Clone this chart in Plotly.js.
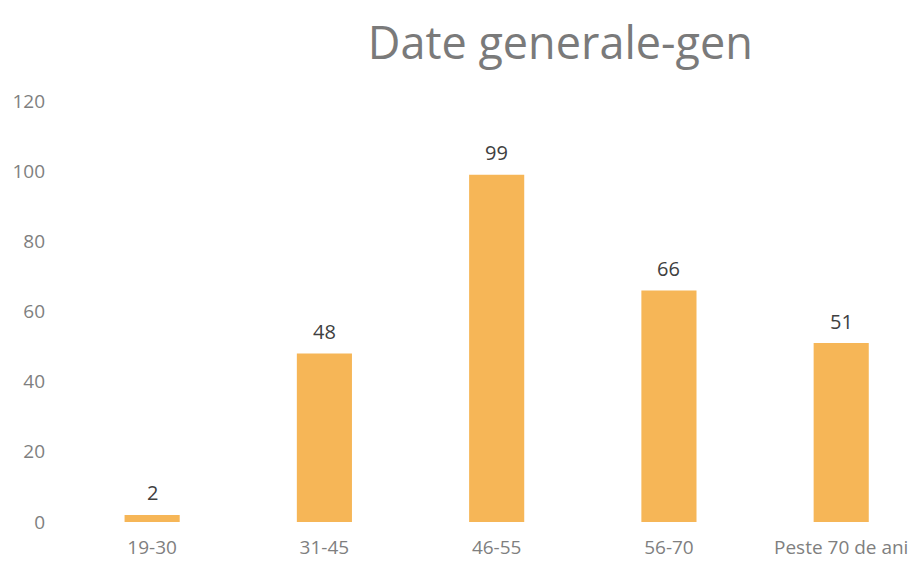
<!DOCTYPE html>
<html><head><meta charset="utf-8">
<script src="https://cdn.plot.ly/plotly-3.0.1.min.js"></script>
<style>html,body{margin:0;padding:0;background:#fff}</style>
</head><body>
<div id="chart" style="width:917px;height:566px"></div>
<script>
const categories = ["19-30", "31-45", "46-55", "56-70", "Peste 70 de ani"];
const values = [2, 48, 99, 66, 51];
const yTicks = [0, 20, 40, 60, 80, 100, 120];

const FONT = "'Open Sans', 'Noto Sans', sans-serif";

const trace = {
  type: "bar",
  x: categories,
  y: values,
  width: 0.32,
  marker: {color: "#F6B657"},
  hoverinfo: "skip"
};

const labels = categories.map((c, i) => ({
  x: c, y: values[i], xref: "x", yref: "y",
  text: String(values[i]),
  showarrow: false, yanchor: "middle", yshift: 22,
  font: {family: FONT, size: 20, color: "#404040"}
}));

const layout = {
  width: 917, height: 566,
  margin: {l: 66, r: 0, t: 101, b: 44},
  paper_bgcolor: "#fff", plot_bgcolor: "#fff",
  showlegend: false,
  annotations: labels,
  title: {
    text: "Date generale-gen",
    x: 0.611, xref: "container", xanchor: "center",
    y: 0.924, yref: "container", yanchor: "middle",
    font: {family: FONT, size: 45, color: "#7a7a7a"}
  },
  xaxis: {
    type: "category",
    range: [-0.5, 4.44],
    showgrid: false, zeroline: false, showline: false,
    ticks: "",
    tickfont: {family: FONT, size: 19, color: "#7f7f7f"},
    ticklabelstandoff: 12
  },
  yaxis: {
    range: [0, 120],
    tickvals: yTicks,
    showgrid: false, zeroline: false, showline: false,
    ticks: "",
    tickfont: {family: FONT, size: 19, color: "#7f7f7f"},
    ticklabelstandoff: 20
  }
};

Plotly.newPlot("chart", [trace], layout, {staticPlot: true, displayModeBar: false});
</script>
</body></html>
